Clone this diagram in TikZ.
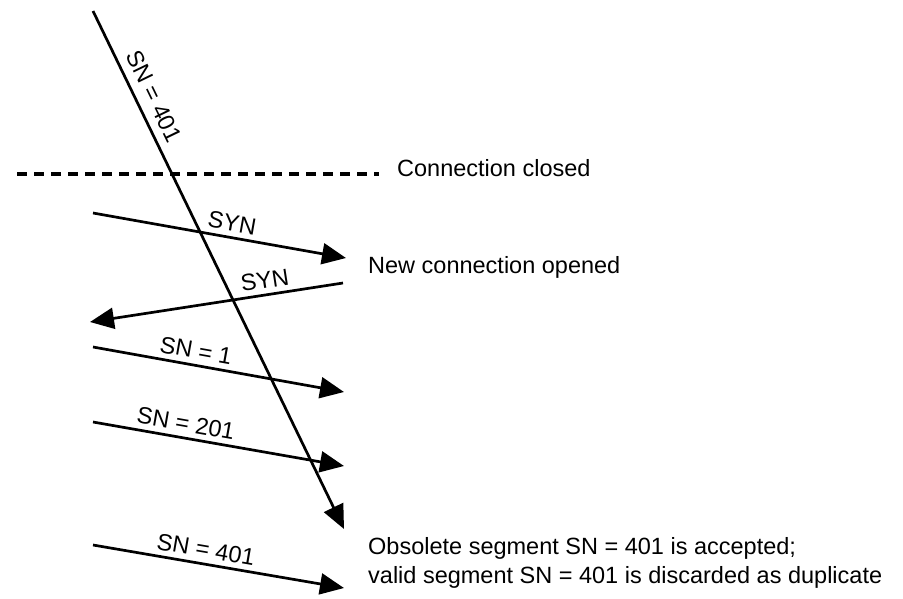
\documentclass[tikz,border=0pt]{standalone}
\usepackage{fontspec}
\setmainfont{Liberation Sans}
\usetikzlibrary{arrows.meta}
\begin{document}
\begin{tikzpicture}[x=1pt,y=-1pt,
  msg/.style={line width=2.7pt,-{Triangle[length=24pt,width=21pt]}},
  lbl/.style={font=\fontsize{23.5}{28}\selectfont,inner sep=2pt},
  note/.style={font=\fontsize{23.5}{29}\selectfont,inner sep=0pt,anchor=west,align=left}]
\useasboundingbox (0,0) rectangle (903,598);
% endpoints
\coordinate (L0) at (93,11);   \coordinate (L1) at (344,529);
\coordinate (D0) at (17,174);  \coordinate (D1) at (379,174);
\coordinate (A0) at (93,213);  \coordinate (A1) at (346,258);
\coordinate (B0) at (343,283); \coordinate (B1) at (90,322);
\coordinate (C0) at (93,347);  \coordinate (C1) at (344,392);
\coordinate (E0) at (93,422);  \coordinate (E1) at (344,466);
\coordinate (F0) at (93,545);  \coordinate (F1) at (344,588);
% dashed line
\draw[line width=3.4pt,dash pattern=on 10pt off 7pt] (D0) -- (D1);
% messages
\draw[msg] (L0) -- node[lbl,sloped,above=6pt,pos=0.18] {SN = 401} (L1);
\draw[msg] (A0) -- node[lbl,sloped,above=3pt,pos=0.54] {SYN} (A1);
\draw[msg] (B0) -- node[lbl,sloped,above=3pt,pos=0.3] {SYN} (B1);
\draw[msg] (C0) -- node[lbl,sloped,above=3pt,pos=0.4] {SN = 1} (C1);
\draw[msg] (E0) -- node[lbl,sloped,above=3pt,pos=0.36] {SN = 201} (E1);
\draw[msg] (F0) -- node[lbl,sloped,above=3pt,pos=0.44] {SN = 401} (F1);
% notes
\node[note] (closed) at (397,168) {Connection closed};
\node[note] (opened) at (368,267) {New connection opened};
\node[note] (result) at (368,563) {Obsolete segment SN = 401 is accepted;\\valid segment SN = 401 is discarded as duplicate};
\end{tikzpicture}
\end{document}
